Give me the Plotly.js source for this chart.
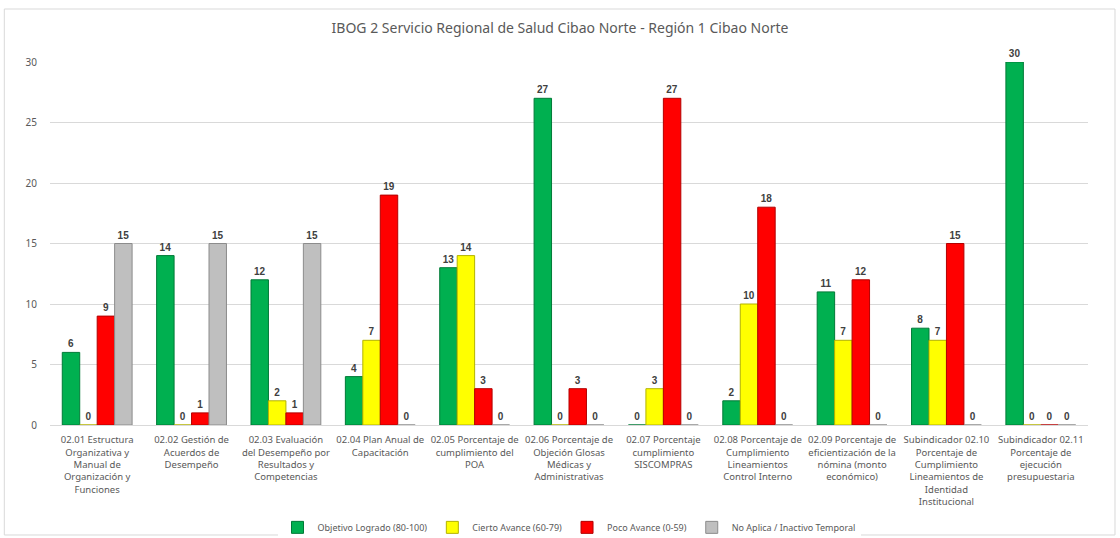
<!DOCTYPE html>
<html>
<head>
<meta charset="utf-8">
<script src="https://cdn.plot.ly/plotly-3.0.1.min.js"></script>
<style>
  html, body { margin: 0; padding: 0; background: #fff; }
  #chart { width: 1120px; height: 538px; }
</style>
</head>
<body>
<div id="chart"></div>
<script>
var categories = [
  '02.01 Estructura<br>Organizativa y<br>Manual de<br>Organización y<br>Funciones',
  '02.02 Gestión de<br>Acuerdos de<br>Desempeño',
  '02.03 Evaluación<br>del Desempeño por<br>Resultados y<br>Competencias',
  '02.04 Plan Anual de<br>Capacitación',
  '02.05 Porcentaje de<br>cumplimiento del<br>POA',
  '02.06 Porcentaje de<br>Objeción Glosas<br>Médicas y<br>Administrativas',
  '02.07 Porcentaje<br>cumplimiento<br>SISCOMPRAS',
  '02.08 Porcentaje de<br>Cumplimiento<br>Lineamientos<br>Control Interno',
  '02.09 Porcentaje de<br>eficientización de la<br>nómina (monto<br>económico)',
  'Subindicador 02.10<br>Porcentaje de<br>Cumplimiento<br>Lineamientos de<br>Identidad<br>Institucional',
  'Subindicador 02.11<br>Porcentaje de<br>ejecución<br>presupuestaria'
];

var logrado  = [6, 14, 12, 4, 13, 27, 0, 2, 11, 8, 30];
var cierto   = [0, 0, 2, 7, 14, 0, 3, 10, 7, 7, 0];
var poco     = [9, 1, 1, 19, 3, 3, 27, 18, 12, 15, 0];
var noAplica = [15, 15, 15, 0, 0, 0, 0, 0, 0, 0, 0];

var seriesNames = [
  'Objetivo Logrado (80-100)',
  'Cierto Avance (60-79)',
  'Poco Avance (0-59)',
  'No Aplica / Inactivo Temporal'
];
var seriesColors = ['#00b050', '#ffff00', '#ff0000', '#bfbfbf'];
var edgeColors = ['#007a37', '#b3b300', '#b30000', '#8c8c8c'];

var values = [logrado, cierto, poco, noAplica];

var data = values.map(function (vals, i) {
  return {
    type: 'bar',
    name: seriesNames[i],
    x: categories,
    y: vals,
    text: vals.map(String),
    textposition: 'outside',
    cliponaxis: false,
    textfont: {family: 'Liberation Sans, Arial, sans-serif', size: 10, color: '#404040', weight: 'bold'},
    marker: {color: seriesColors[i], line: {color: edgeColors[i], width: 1}}
  };
});

var layout = {
  width: 1120,
  height: 538,
  title: {
    text: 'IBOG 2 Servicio Regional de Salud Cibao Norte - Región 1 Cibao Norte',
    font: {family: 'Noto Sans, Arial, sans-serif', size: 14, color: '#595959'},
    x: 0.5,
    xanchor: 'center',
    yref: 'container',
    y: 0.948,
    yanchor: 'middle'
  },
  paper_bgcolor: '#ffffff',
  plot_bgcolor: '#ffffff',
  margin: {l: 50, r: 32, t: 62, b: 113, autoexpand: false},
  barmode: 'group',
  bargap: 0.26,
  bargroupgap: 0,
  font: {family: 'Noto Sans, Arial, sans-serif', size: 10, color: '#595959'},
  xaxis: {
    automargin: false,
    tickangle: 0,
    tickfont: {size: 9.5, color: '#595959'},
    showline: true,
    linecolor: '#d9d9d9',
    ticks: 'outside',
    ticklen: 6,
    tickcolor: 'rgba(0,0,0,0)'
  },
  yaxis: {
    automargin: false,
    range: [0, 30],
    dtick: 5,
    gridcolor: '#d9d9d9',
    zeroline: false,
    tickfont: {size: 10, color: '#595959'},
    ticks: 'outside',
    ticklen: 10,
    tickcolor: 'rgba(0,0,0,0)'
  },
  legend: {
    orientation: 'h',
    x: 0.5,
    xanchor: 'center',
    y: -0.282,
    yanchor: 'middle',
    font: {size: 9, color: '#595959'},
    itemwidth: 30
  },
  // thin chart-area frame
  shapes: [{
    type: 'rect',
    xref: 'paper', yref: 'paper',
    x0: -0.044, x1: 1.026,
    y0: -0.303, y1: 1.146,
    line: {color: '#d9d9d9', width: 1},
    fillcolor: 'rgba(0,0,0,0)',
    layer: 'below'
  }],
  showlegend: true
};

Plotly.newPlot('chart', data, layout, {displayModeBar: false, staticPlot: true});
</script>
</body>
</html>
